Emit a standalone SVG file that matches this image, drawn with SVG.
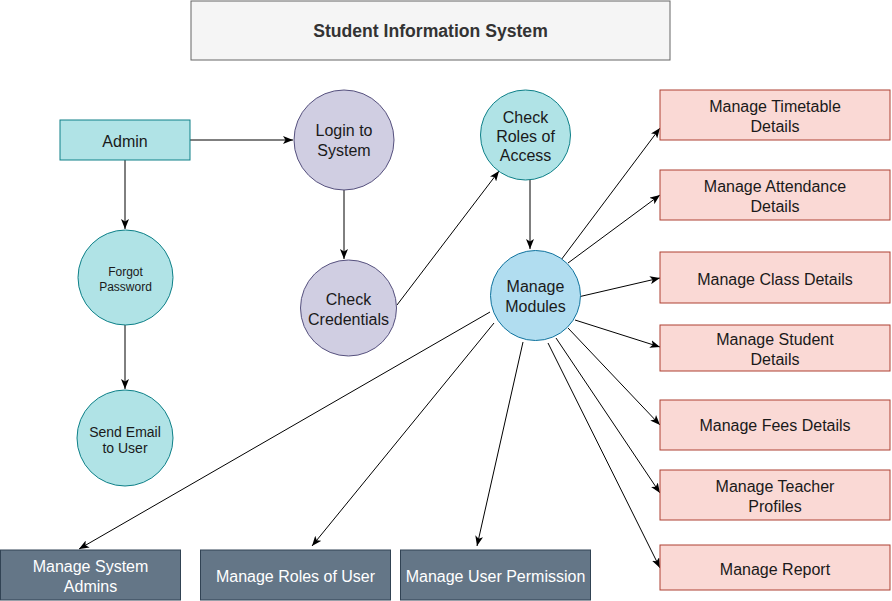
<svg xmlns="http://www.w3.org/2000/svg" width="892" height="601" viewBox="0 0 892 601">
<defs>
<marker id="arr" viewBox="0 0 10 8" refX="10" refY="4" markerWidth="10" markerHeight="8" markerUnits="userSpaceOnUse" orient="auto">
<path d="M0,0 L10,4 L0,8 L2.5,4 Z" fill="#000"/>
</marker>
<style>
text{font-family:"Liberation Sans",Arial,sans-serif;font-size:16px;fill:#1a1a1a;text-anchor:middle}
.title{font-weight:bold;font-size:17.6px;fill:#333}
.teal{fill:#b0e3e6;stroke:#0e8088;stroke-width:1}
.purple{fill:#d0cee2;stroke:#56517e;stroke-width:1}
.blue{fill:#b1ddf0;stroke:#10739e;stroke-width:1}
.red{fill:#fad9d5;stroke:#ae4132;stroke-width:1}
.slate{fill:#647687;stroke:#314354;stroke-width:1}
.w{fill:#fff}
.edge{stroke:#000;stroke-width:1;fill:none;marker-end:url(#arr)}
</style>
</defs>
<rect width="892" height="601" fill="#fff"/>
<g id="title">
<rect x="191" y="1" width="479" height="59" fill="#f5f5f5" stroke="#666"/>
<text class="title" x="430.5" y="37">Student Information System</text>
</g>
<g id="connectors">
<line class="edge" x1="190" y1="140" x2="293" y2="140"/>
<line class="edge" x1="125" y1="160" x2="125" y2="229"/>
<line class="edge" x1="125" y1="325" x2="125" y2="389"/>
<line class="edge" x1="344" y1="190" x2="344" y2="259"/>
<line class="edge" x1="397" y1="305" x2="499" y2="171"/>
<line class="edge" x1="530" y1="180" x2="530" y2="249"/>
<line class="edge" x1="561" y1="260" x2="660" y2="128"/>
<line class="edge" x1="568" y1="263" x2="660" y2="195"/>
<line class="edge" x1="578" y1="297" x2="660" y2="278"/>
<line class="edge" x1="575" y1="320" x2="660" y2="347"/>
<line class="edge" x1="568" y1="328" x2="660" y2="425"/>
<line class="edge" x1="556" y1="338" x2="660" y2="493"/>
<line class="edge" x1="548" y1="343" x2="660" y2="568"/>
<line class="edge" x1="490" y1="312" x2="79" y2="549"/>
<line class="edge" x1="494" y1="323" x2="312" y2="546"/>
<line class="edge" x1="523" y1="342" x2="477" y2="546"/>
</g>
<g id="admin">
<rect class="teal" x="60" y="120" width="130" height="40"/>
<text x="125" y="147">Admin</text>
</g>
<g id="login">
<circle class="purple" cx="344" cy="140" r="50"/>
<text x="344" y="136">Login to</text>
<text x="344" y="156">System</text>
</g>
<g id="check-credentials">
<circle class="purple" cx="348.5" cy="308" r="48"/>
<text x="348.5" y="305">Check</text>
<text x="348.5" y="325">Credentials</text>
</g>
<g id="forgot-password">
<circle class="teal" cx="125.5" cy="277.5" r="47.5"/>
<text x="125.5" y="275.5" style="font-size:12px">Forgot</text>
<text x="125.5" y="290.5" style="font-size:12px">Password</text>
</g>
<g id="send-email">
<circle class="teal" cx="125" cy="438" r="48"/>
<text x="125" y="437" style="font-size:14px">Send Email</text>
<text x="125" y="453" style="font-size:14px">to User</text>
</g>
<g id="check-roles">
<circle class="teal" cx="525.5" cy="135" r="45"/>
<text x="525.5" y="123">Check</text>
<text x="525.5" y="142">Roles of</text>
<text x="525.5" y="161">Access</text>
</g>
<g id="manage-modules">
<circle class="blue" cx="535.5" cy="295.5" r="45"/>
<text x="535.5" y="292">Manage</text>
<text x="535.5" y="312">Modules</text>
</g>
<g id="timetable">
<rect class="red" x="660" y="90" width="230" height="50"/>
<text x="775" y="111.5">Manage Timetable</text>
<text x="775" y="131.5">Details</text>
</g>
<g id="attendance">
<rect class="red" x="660" y="170" width="230" height="50"/>
<text x="775" y="191.5">Manage Attendance</text>
<text x="775" y="211.5">Details</text>
</g>
<g id="class">
<rect class="red" x="660" y="252" width="230" height="51"/>
<text x="775" y="285">Manage Class Details</text>
</g>
<g id="student">
<rect class="red" x="660" y="325" width="230" height="46"/>
<text x="775" y="345">Manage Student</text>
<text x="775" y="365">Details</text>
</g>
<g id="fees">
<rect class="red" x="660" y="400" width="230" height="50"/>
<text x="775" y="431">Manage Fees Details</text>
</g>
<g id="teacher">
<rect class="red" x="660" y="470" width="230" height="50"/>
<text x="775" y="492">Manage Teacher</text>
<text x="775" y="512">Profiles</text>
</g>
<g id="report">
<rect class="red" x="660" y="545" width="230" height="45"/>
<text x="775" y="575">Manage Report</text>
</g>
<g id="system-admins">
<rect class="slate" x="0.5" y="550" width="180" height="50"/>
<text class="w" x="90.5" y="572">Manage System</text>
<text class="w" x="90.5" y="592">Admins</text>
</g>
<g id="roles-of-user">
<rect class="slate" x="200.5" y="550" width="190" height="50"/>
<text class="w" x="295.5" y="582">Manage Roles of User</text>
</g>
<g id="user-permission">
<rect class="slate" x="400.5" y="550" width="190" height="50"/>
<text class="w" x="495.5" y="582">Manage User Permission</text>
</g>
</svg>
